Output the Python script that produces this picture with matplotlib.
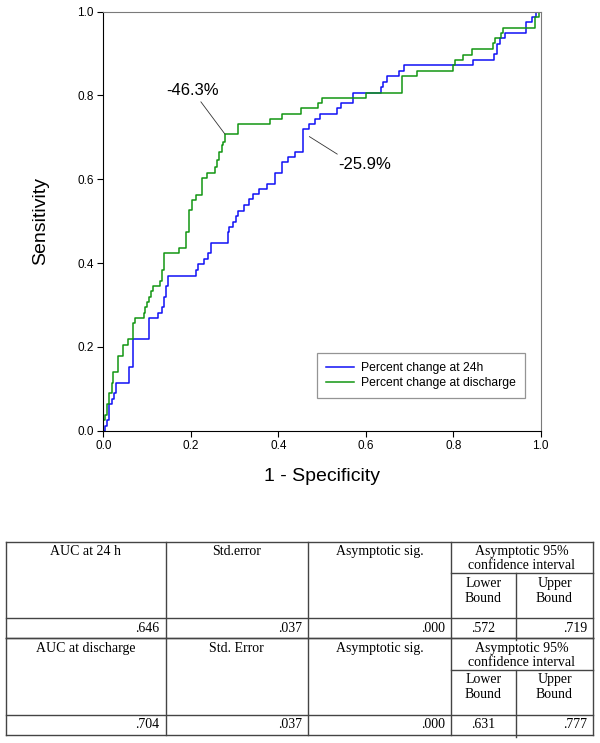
import numpy as np
import matplotlib
matplotlib.use("Agg")
import matplotlib.pyplot as plt

# ROC curve points (1 - specificity, sensitivity)
fpr_24h = [0, 0.004, 0.009, 0.014, 0.019, 0.025, 0.029, 0.058, 0.067, 0.105, 0.126, 0.135, 0.139,
           0.143, 0.147, 0.149, 0.212, 0.216, 0.230, 0.240, 0.246, 0.284, 0.288, 0.297, 0.303, 0.309,
           0.322, 0.333, 0.343, 0.355, 0.374, 0.393, 0.408, 0.423, 0.438, 0.457, 0.471, 0.484, 0.496,
           0.534, 0.544, 0.572, 0.635, 0.640, 0.649, 0.675, 0.688, 0.846, 0.893, 0.901, 0.907, 0.919,
           0.967, 0.980, 0.990, 1.0]
tpr_24h = [0, 0.012, 0.026, 0.064, 0.076, 0.089, 0.115, 0.153, 0.218, 0.268, 0.282, 0.295, 0.320,
           0.345, 0.357, 0.370, 0.384, 0.397, 0.409, 0.423, 0.449, 0.474, 0.487, 0.499, 0.512, 0.525,
           0.538, 0.552, 0.564, 0.577, 0.589, 0.616, 0.642, 0.654, 0.666, 0.719, 0.732, 0.743, 0.756,
           0.769, 0.782, 0.807, 0.821, 0.833, 0.847, 0.859, 0.872, 0.885, 0.898, 0.922, 0.937, 0.948,
           0.975, 0.988, 1.0, 1.0]

fpr_dc = [0, 0, 0.005, 0.009, 0.014, 0.019, 0.023, 0.034, 0.044, 0.057, 0.068, 0.072, 0.092, 0.095,
          0.099, 0.105, 0.109, 0.114, 0.130, 0.134, 0.139, 0.174, 0.188, 0.197, 0.202, 0.211, 0.225,
          0.236, 0.255, 0.259, 0.265, 0.271, 0.274, 0.278, 0.307, 0.380, 0.409, 0.452, 0.490, 0.499,
          0.601, 0.682, 0.717, 0.799, 0.804, 0.823, 0.842, 0.890, 0.895, 0.910, 0.914, 0.986, 0.995, 1.0]
tpr_dc = [0, 0.026, 0.038, 0.064, 0.089, 0.115, 0.141, 0.179, 0.205, 0.218, 0.256, 0.268, 0.282, 0.295,
          0.308, 0.320, 0.333, 0.345, 0.358, 0.384, 0.423, 0.435, 0.474, 0.527, 0.551, 0.563, 0.602,
          0.616, 0.629, 0.646, 0.664, 0.682, 0.690, 0.707, 0.732, 0.743, 0.756, 0.769, 0.781, 0.795,
          0.807, 0.847, 0.859, 0.872, 0.885, 0.897, 0.910, 0.925, 0.937, 0.949, 0.962, 0.988, 1.0, 1.0]

series_labels = ["Percent change at 24h", "Percent change at discharge"]
cut_labels = ["-46.3%", "-25.9%"]
ticks = [0.0, 0.2, 0.4, 0.6, 0.8, 1.0]

# table contents
head_24h = ["AUC at 24 h", "Std.error", "Asymptotic sig."]
head_dc = ["AUC at discharge", "Std. Error", "Asymptotic sig."]
ci_head = ["Asymptotic 95%", "confidence interval"]
bound_head = [["Lower", "Bound"], ["Upper", "Bound"]]
vals_24h = [".646", ".037", ".000", ".572", ".719"]
vals_dc = [".704", ".037", ".000", ".631", ".777"]

W, H = 600, 743
fig = plt.figure(figsize=(W / 100, H / 100), dpi=100)
sans = ["Liberation Sans", "DejaVu Sans"]
serif = ["Liberation Serif", "DejaVu Serif"]

ax = fig.add_axes([103.3 / W, 1 - 430.7 / H, 437.4 / W, 419 / H])
ax.plot(fpr_24h, tpr_24h, drawstyle="steps-post", color="#1010f5", lw=1.1, label=series_labels[0])
ax.plot(fpr_dc, tpr_dc, drawstyle="steps-post", color="#129612", lw=1.1, label=series_labels[1])
ax.set_xlim(0, 1)
ax.set_ylim(0, 1)
ax.set_xticks(ticks)
ax.set_yticks(ticks)
ax.set_xticklabels(["%.1f" % t for t in ticks], family=sans, fontsize=8.5)
ax.set_yticklabels(["%.1f" % t for t in ticks], family=sans, fontsize=8.5)
ax.tick_params(direction="out", length=4, width=0.8, pad=3)
for s in ["top", "right"]:
    ax.spines[s].set_color("#7a7a7a")
for s in ["left", "bottom"]:
    ax.spines[s].set_color("black")
ax.set_xlabel("1 - Specificity", family=sans, fontsize=14, labelpad=11)
ax.set_ylabel("Sensitivity", family=sans, fontsize=14, labelpad=20)

# cut-off annotations
ax.annotate("", xy=(0.278, 0.708), xytext=(0.223, 0.785),
            arrowprops=dict(arrowstyle="-", color="#333333", lw=0.6, shrinkA=0, shrinkB=0))
ax.text(0.205, 0.811, cut_labels[0], family=sans, fontsize=12, ha="center", va="center")
ax.annotate("", xy=(0.471, 0.702), xytext=(0.535, 0.660),
            arrowprops=dict(arrowstyle="-", color="#333333", lw=0.6, shrinkA=0, shrinkB=0))
ax.text(0.598, 0.635, cut_labels[1], family=sans, fontsize=12, ha="center", va="center")

leg = ax.legend(loc="upper left", bbox_to_anchor=(0.488, 0.186), borderaxespad=0,
                prop={"family": sans, "size": 8.7}, fancybox=False, frameon=True,
                handlelength=2.3, handletextpad=0.6, borderpad=0.75, labelspacing=0.25)
leg.get_frame().set_edgecolor("#7a7a7a")
leg.get_frame().set_linewidth(0.9)

# table drawn in pixel coordinates
tab = fig.add_axes([0, 0, 1, 1])
tab.set_xlim(0, W)
tab.set_ylim(H, 0)
tab.axis("off")
cols = [6, 165.5, 308, 451, 516, 593]
lc = "#444444"
lw = 1.0

def draw_block(top, heads, vals):
    sub = top + 31.6
    row = top + 76.6
    bot = row + 20
    for y in [top, row, bot]:
        tab.plot([cols[0], cols[-1]], [y, y], color=lc, lw=lw)
    tab.plot([cols[3], cols[-1]], [sub, sub], color=lc, lw=lw)
    for x in [cols[0], cols[1], cols[2], cols[3], cols[-1]]:
        tab.plot([x, x], [top, bot], color=lc, lw=lw)
    tab.plot([cols[4], cols[4]], [sub, bot + 2], color=lc, lw=lw)
    for i, h in enumerate(heads):
        tab.text((cols[i] + cols[i + 1]) / 2, top + 10, h, family=serif, fontsize=10,
                 ha="center", va="center")
    cx = (cols[3] + cols[-1]) / 2
    tab.text(cx, top + 10, ci_head[0], family=serif, fontsize=10, ha="center", va="center")
    tab.text(cx, top + 24, ci_head[1], family=serif, fontsize=10, ha="center", va="center")
    for j, bh in enumerate(bound_head):
        bx = (cols[3 + j] + cols[4 + j]) / 2
        tab.text(bx, top + 41.5, bh[0], family=serif, fontsize=10, ha="center", va="center")
        tab.text(bx, top + 56.5, bh[1], family=serif, fontsize=10, ha="center", va="center")
    for i, v in enumerate(vals):
        if i == 3:
            tab.text((cols[3] + cols[4]) / 2, row + 10, v, family=serif, fontsize=10,
                     ha="center", va="center")
        else:
            tab.text(cols[i + 1] - 6, row + 10, v, family=serif, fontsize=10,
                     ha="right", va="center")

draw_block(541.7, head_24h, vals_24h)
draw_block(638.3, head_dc, vals_dc)

fig.savefig("out.png", dpi=100)
